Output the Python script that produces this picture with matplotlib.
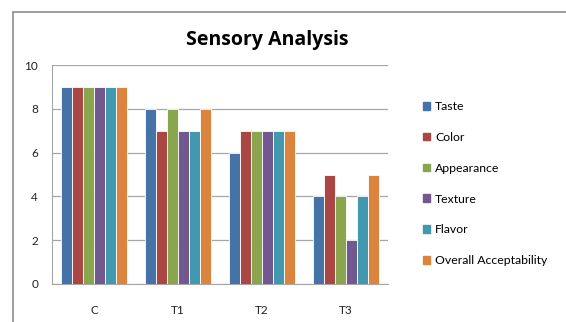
import numpy as np
import matplotlib.pyplot as plt
import matplotlib.patches as mpatches

plt.rcParams['font.family'] = ['Lato', 'DejaVu Sans']

groups = ['C', 'T1', 'T2', 'T3']
series = ['Taste', 'Color', 'Appearance', 'Texture', 'Flavor', 'Overall Acceptability']
values = {
    'Taste': [9, 8, 6, 4],
    'Color': [9, 7, 7, 5],
    'Appearance': [9, 8, 7, 4],
    'Texture': [9, 7, 7, 2],
    'Flavor': [9, 7, 7, 4],
    'Overall Acceptability': [9, 8, 7, 5],
}
colors = ['#4572A7', '#AA4643', '#89A54E', '#71588F', '#4198AF', '#DB843D']

fig = plt.figure(figsize=(5.66, 3.22), dpi=100)
fig.patch.set_facecolor('white')

# outer chart border
fig.add_artist(mpatches.Rectangle((13 / 566, -0.01), 1.0, 1 - 12 / 322 + 0.01,
                                  transform=fig.transFigure, fill=False,
                                  edgecolor='#8c8c8c', lw=1.2))

ax = fig.add_axes([52 / 566, 1 - 284 / 322, 336 / 566, 219 / 322])

x = np.arange(len(groups))
bw = 0.131
for i, (s, c) in enumerate(zip(series, colors)):
    off = (i - (len(series) - 1) / 2) * bw
    ax.bar(x + off, values[s], width=bw, color=c, edgecolor='white', linewidth=0.6,
           label=s, zorder=3)

ax.set_xlim(-0.5, len(groups) - 0.5)
ax.set_ylim(0, 10)
ax.set_yticks(range(0, 11, 2))
ax.set_xticks(x)
ax.set_xticklabels(groups)
ax.yaxis.grid(True, color='#a6a6a6', linewidth=0.9, zorder=0)
for sp in ['top', 'right']:
    ax.spines[sp].set_visible(False)
ax.spines['left'].set_color('#a6a6a6')
ax.spines['bottom'].set_color('#a6a6a6')
ax.tick_params(axis='y', length=0, labelsize=8.5, pad=10, colors='#222222')
ax.tick_params(axis='x', length=0, labelsize=8.5, pad=15, colors='#222222')

fig.text(267 / 566, 1 - 40 / 322, 'Sensory Analysis', ha='center', va='center',
         fontsize=14, fontweight='bold', family=['Open Sans', 'DejaVu Sans'])

handles = [mpatches.Patch(color=c, label=s) for s, c in zip(series, colors)]
fig.legend(handles=handles, loc='upper left', bbox_to_anchor=(417 / 566, 1 - 95 / 322),
           frameon=False, fontsize=8.8, handlelength=0.6, handleheight=0.6,
           handletextpad=0.4, labelspacing=1.62, borderpad=0)

fig.savefig('out.png', dpi=100, facecolor='white')
